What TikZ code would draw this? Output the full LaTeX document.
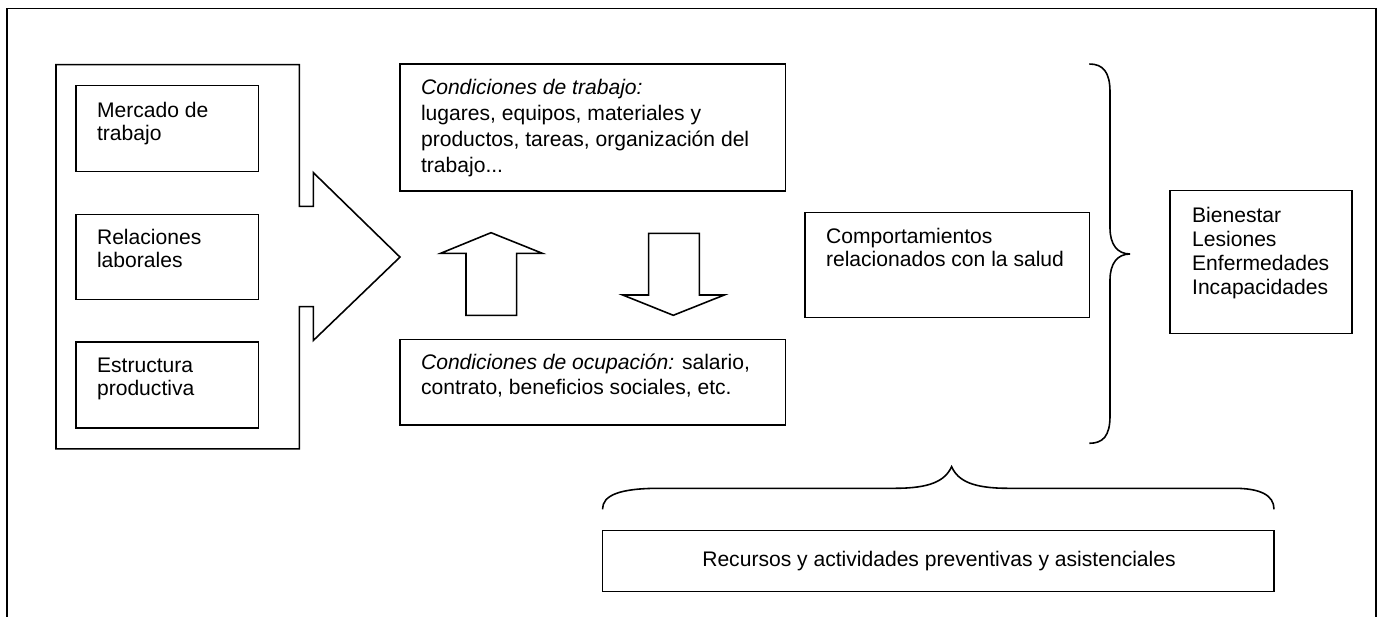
\documentclass[tikz,border=0pt]{standalone}
\usepackage{fontspec}
\setmainfont{Liberation Sans}
\usetikzlibrary{fit}
\newcommand\fstrut{\rule{0pt}{10pt}}
\tikzset{
  box/.style={draw, line width=0.9pt, inner sep=0pt},
  shape line/.style={draw, line width=0.9pt, line join=miter},
  brace line/.style={draw, line width=0.9pt},
  txt/.style={inner sep=0pt, anchor=north west, align=left, font=\fontsize{12}{#1}\selectfont},
  txt/.default=13.5,
}
\begin{document}
\begin{tikzpicture}[x=0.02cm, y=-0.02cm]
\useasboundingbox (0,0) rectangle (1383,617);
% outer frame (open at bottom)
\draw[line width=1pt] (7.3,617) -- (7.3,8.5) -- (1376,8.5) -- (1376,617);

% left container with block arrow
\draw[shape line] (56,64.7) -- (299.3,64.7) -- (299.3,206.3) -- (313.3,206.3) -- (313.3,172.6)
  -- (400,257.1) -- (313.3,340.5) -- (313.3,306.7) -- (299.3,306.7) -- (299.3,448.8)
  -- (56,448.8) -- cycle;

% left inner boxes
\node[box, fit={(76,85.3) (258.7,171.4)}] (mercado) {};
\node[box, fit={(76,214.3) (258.7,299.6)}] (relaciones) {};
\node[box, fit={(76,342) (258.7,427.8)}] (estructura) {};
\node[txt=13] (tmercado) at (96.7,99.3) {\fstrut Mercado de\\trabajo};
\node[txt=13] (trelaciones) at (96.7,227) {\fstrut Relaciones\\laborales};
\node[txt=13] (testructura) at (96.7,354.8) {\fstrut Estructura\\productiva};

% conditions boxes
\node[box, fit={(400,64) (785.7,191)}] (trabajo) {};
\node[txt=14.9] (ttrabajo) at (420.7,76.4) {\fstrut\textit{Condiciones de trabajo:}\\lugares, equipos, materiales y\\productos, tareas, organización del\\trabajo...};
\node[box, fit={(400,339.3) (785.7,425)}] (ocupacion) {};
\node[txt=14] (tocupacion) at (420.7,351.7) {\fstrut\textit{Condiciones de ocupación:} salario,\\contrato, beneficios sociales, etc.};

% up and down block arrows
\draw[shape line] (466,315.3) -- (466,253.3) -- (440.7,253.3) -- (491,232.7) -- (542.3,253.3)
  -- (516.7,253.3) -- (516.7,315.3) -- cycle;
\draw[shape line] (648.7,233.3) -- (699.3,233.3) -- (699.3,295) -- (724.3,295) -- (673.3,315.3)
  -- (622.7,295) -- (648.7,295) -- cycle;

% comportamientos
\node[box, fit={(805,212.3) (1089.5,317.7)}] (comport) {};
\node[txt=13.6] (tcomport) at (825.7,225.1) {\fstrut Comportamientos\\relacionados con la salud};

% right brace
\draw[brace line] (1089.3,64) .. controls (1103,64) and (1110,72) .. (1110,92)
  -- (1110,228) .. controls (1110,244) and (1117,254) .. (1130,254)
  .. controls (1117,254) and (1110,264) .. (1110,280)
  -- (1110,416) .. controls (1110,436) and (1103,443.3) .. (1089.3,443.3);

% outcomes
\node[box, fit={(1170,190.7) (1352,333.3)}] (bienestar) {};
\node[txt=13.7] (tbienestar) at (1191.8,204.1) {\fstrut Bienestar\\Lesiones\\Enfermedades\\Incapacidades};

% bottom brace
\draw[brace line] (602.5,509.3) .. controls (602.5,495) and (620,488.3) .. (660,488.3)
  -- (895,488.3) .. controls (930,488.3) and (945,481) .. (951.6,466.7)
  .. controls (958,481) and (973,488.3) .. (1008,488.3)
  -- (1234,488.3) .. controls (1260,488.3) and (1274,495) .. (1274,509.3);

% recursos
\node[box, fit={(602.5,530.7) (1274,591.7)}] (recursos) {};
\node[inner sep=0pt, anchor=base, font=\fontsize{12}{13.5}\selectfont] (trecursos) at (939,566.7) {Recursos y actividades preventivas y asistenciales};
\end{tikzpicture}
\end{document}
